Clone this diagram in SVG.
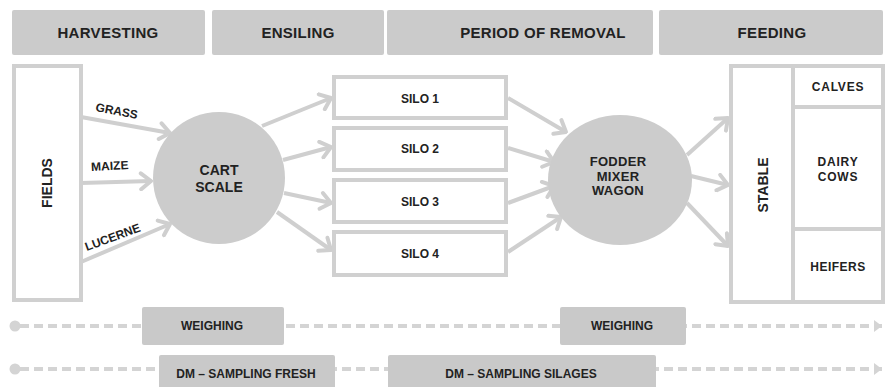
<svg xmlns="http://www.w3.org/2000/svg" width="885" height="387" viewBox="0 0 885 387">
<defs>
<marker id="chev" markerUnits="userSpaceOnUse" markerWidth="16" markerHeight="20" viewBox="-14 -10 16 20" refX="0" refY="0" orient="auto">
<path d="M-10,-8 L0,0 L-10,8" fill="none" stroke="#cfcfcf" stroke-width="4" stroke-linecap="round" stroke-linejoin="round"/>
</marker>
<marker id="tri" markerUnits="userSpaceOnUse" markerWidth="12" markerHeight="14" viewBox="-10 -7 12 14" refX="0" refY="0" orient="auto">
<path d="M-8,-6 L0,0 L-8,6 Z" fill="#d4d4d4"/>
</marker>
<style>
.hdr{fill:#cbcbcb}
.box{fill:#fff;stroke:#d0d0d0;stroke-width:4}
.node{fill:#cccccc}
.t{font-family:"Liberation Sans",Arial,sans-serif;font-weight:bold;fill:#222;text-anchor:middle}
.h{font-size:15px;letter-spacing:0.3px}
.s{font-size:12px}
.c{font-size:14px}
.f{font-size:13px;letter-spacing:0.3px}
.conn{fill:none;stroke:#cfcfcf;stroke-width:4;marker-end:url(#chev)}
.dash{fill:none;stroke:#d4d4d4;stroke-width:4;stroke-dasharray:9 5;marker-end:url(#tri)}
.pill{fill:#c9c9c9}
</style>
</defs>
<rect width="885" height="387" fill="#fff"/>

<g id="headers">
<g id="h-harvesting"><rect class="hdr" x="12" y="10" width="193" height="45" rx="2"/><text class="t h" x="108" y="38">HARVESTING</text></g>
<g id="h-ensiling"><rect class="hdr" x="212" y="10" width="172" height="45" rx="2"/><text class="t h" x="298" y="38">ENSILING</text></g>
<g id="h-removal"><rect class="hdr" x="387" y="10" width="266" height="45" rx="2"/><text class="t h" x="543" y="38">PERIOD OF REMOVAL</text></g>
<g id="h-feeding"><rect class="hdr" x="659" y="10" width="224" height="45" rx="2"/><text class="t h" x="772" y="38">FEEDING</text></g>
</g>

<g id="connectors">
<path class="conn" d="M81,117 L170,133"/>
<path class="conn" d="M81,183 L151,181"/>
<path class="conn" d="M81,262 L170,224"/>
<path class="conn" d="M262,126 L331,98"/>
<path class="conn" d="M283,160 L331,147"/>
<path class="conn" d="M284,193 L331,203"/>
<path class="conn" d="M277,212 L331,250"/>
<path class="conn" d="M508,98 L566,132"/>
<path class="conn" d="M508,148 L554,162"/>
<path class="conn" d="M508,203 L554,186"/>
<path class="conn" d="M508,252 L561,217"/>
<path class="conn" d="M687,155 L728,118"/>
<path class="conn" d="M691,176 L728,185"/>
<path class="conn" d="M687,203 L728,246"/>
<g id="labels">
<text class="t s" transform="translate(116,115) rotate(11)" x="0" y="0">GRASS</text>
<text class="t s" transform="translate(110,170) rotate(-3)" x="0" y="0">MAIZE</text>
<text class="t s" transform="translate(114,241) rotate(-20)" x="0" y="0">LUCERNE</text>
</g>
</g>

<g id="fields"><rect class="box" x="14" y="66" width="67" height="234"/><text class="t c" transform="translate(52,183) rotate(-90)">FIELDS</text></g>

<g id="cart-scale"><circle class="node" cx="219" cy="178" r="66"/><text class="t c" x="219" y="175">CART</text><text class="t c" x="219" y="192">SCALE</text></g>

<g id="silo1"><rect class="box" x="334" y="77" width="172" height="41"/><text class="t s" x="420" y="103">SILO 1</text></g>
<g id="silo2"><rect class="box" x="334" y="128" width="172" height="42"/><text class="t s" x="420" y="153">SILO 2</text></g>
<g id="silo3"><rect class="box" x="334" y="180" width="172" height="42"/><text class="t s" x="420" y="206">SILO 3</text></g>
<g id="silo4"><rect class="box" x="334" y="232" width="172" height="43"/><text class="t s" x="420" y="258">SILO 4</text></g>

<g id="fodder-mixer"><ellipse class="node" cx="620" cy="180" rx="72" ry="65"/><text class="t f" x="618" y="166">FODDER</text><text class="t f" x="618" y="180.5">MIXER</text><text class="t f" x="618" y="195">WAGON</text></g>

<g id="stable"><rect class="box" x="731" y="66" width="152" height="236"/><line x1="793" y1="66" x2="793" y2="302" stroke="#d0d0d0" stroke-width="4"/><text class="t c" transform="translate(768,185) rotate(-90)">STABLE</text></g>
<g id="calves"><line x1="793" y1="107" x2="883" y2="107" stroke="#d0d0d0" stroke-width="4"/><text class="t s" x="838" y="91" style="letter-spacing:0.8px">CALVES</text></g>
<g id="dairy-cows"><line x1="793" y1="229" x2="883" y2="229" stroke="#d0d0d0" stroke-width="4"/><text class="t s" x="838" y="166" style="letter-spacing:0.8px">DAIRY</text><text class="t s" x="838" y="181" style="letter-spacing:0.8px">COWS</text></g>
<g id="heifers"><text class="t s" x="838" y="271" style="letter-spacing:0.5px">HEIFERS</text></g>

<g id="timelines">
<circle cx="15" cy="326" r="5.5" fill="#d4d4d4"/>
<path class="dash" d="M20,326 L882,326"/>
<circle cx="15" cy="369" r="5.5" fill="#d4d4d4"/>
<path class="dash" d="M20,369 L882,369"/>
</g>
<g id="weighing1"><rect class="pill" x="142" y="307" width="142" height="38" rx="2"/><text class="t s" x="212" y="330">WEIGHING</text></g>
<g id="weighing2"><rect class="pill" x="560" y="307" width="126" height="38" rx="2"/><text class="t s" x="622" y="330">WEIGHING</text></g>
<g id="dm-fresh"><rect class="pill" x="159" y="355" width="176" height="36" rx="2"/><text class="t s" x="246" y="378">DM – SAMPLING FRESH</text></g>
<g id="dm-silages"><rect class="pill" x="388" y="355" width="268" height="36" rx="2"/><text class="t s" x="521" y="378">DM – SAMPLING SILAGES</text></g>
</svg>
